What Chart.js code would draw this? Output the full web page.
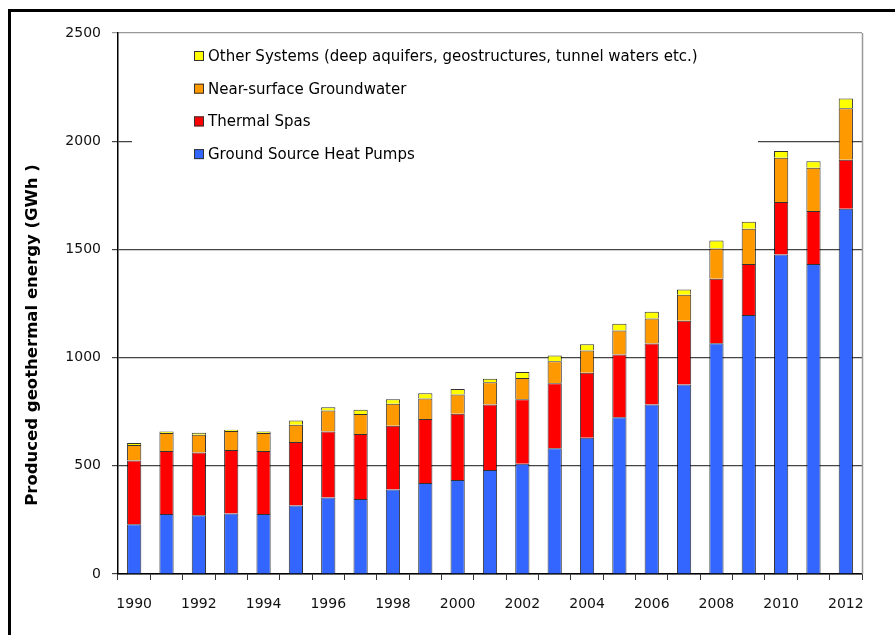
<!DOCTYPE html>
<html>
<head>
<meta charset="utf-8">
<title>Produced geothermal energy</title>
<script src="https://cdn.jsdelivr.net/npm/chart.js@4/dist/chart.umd.min.js"></script>
<style>
    html, body { margin: 0; padding: 0; background: #fff; }
    canvas { display: block; }
</style>
</head>
<body>
<canvas id="energyChart" width="895" height="635"></canvas>
<script>
    var years = ['1990', '1991', '1992', '1993', '1994', '1995', '1996', '1997', '1998', '1999', '2000', '2001',
        '2002', '2003', '2004', '2005', '2006', '2007', '2008', '2009', '2010', '2011', '2012'];

    // GWh per year
    var heatPumps = [230, 277, 272, 279, 277, 316, 353, 347, 390, 421, 434, 481, 509, 581, 630, 724, 783, 876, 1066, 1197, 1476, 1433, 1688];
    var thermalSpas = [295, 291, 290, 294, 291, 294, 305, 300, 295, 295, 306, 302, 299, 301, 300, 290, 282, 294, 298, 236, 243, 245, 226];
    var groundwater = [71, 83, 82, 88, 84, 80, 98, 92, 102, 95, 90, 103, 98, 101, 103, 111, 116, 120, 140, 163, 205, 199, 238];
    var otherSystems = [9, 7, 9, 6, 6, 19, 15, 20, 21, 24, 25, 16, 28, 27, 29, 31, 31, 25, 37, 32, 31, 30, 45];

    var yTicks = [0, 500, 1000, 1500, 2000, 2500];
    var legendLabels = [
        'Other Systems (deep aquifers, geostructures, tunnel waters etc.)',
        'Near-surface Groundwater',
        'Thermal Spas',
        'Ground Source Heat Pumps'
    ];
    var yTitle = 'Produced geothermal energy (GWh )';

    var colors = {
        heatPumps: '#3366ff',
        thermalSpas: '#ff0000',
        groundwater: '#ff9900',
        otherSystems: '#ffff00'
    };

    Chart.defaults.font.family = '"DejaVu Sans", Verdana, sans-serif';
    Chart.defaults.color = '#1a1a1a';

    // black frame, plot border and the y title
    var framePlugin = {
        id: 'frame',
        beforeDraw: function (chart) {
            var ctx = chart.ctx;
            ctx.save();
            ctx.fillStyle = '#000';
            ctx.fillRect(8, 9, 3, 626);
            ctx.fillRect(8, 9, 887, 3);
            ctx.restore();
        },
        afterDraw: function (chart) {
            var ctx = chart.ctx;
            var area = chart.chartArea;
            ctx.save();
            ctx.strokeStyle = '#999';
            ctx.lineWidth = 1.5;
            ctx.beginPath();
            ctx.moveTo(area.right + 0.5, area.top);
            ctx.lineTo(area.right + 0.5, area.bottom);
            ctx.stroke();

            ctx.translate(33, 335);
            ctx.rotate(-Math.PI / 2);
            ctx.fillStyle = '#000';
            ctx.font = 'bold 16.5px "DejaVu Sans"';
            ctx.textAlign = 'center';
            ctx.textBaseline = 'middle';
            ctx.fillText(yTitle, 0, 0);
            ctx.restore();
        }
    };

    // legend box sitting inside the plot, over the 2000 gridline
    var boxLegendPlugin = {
        id: 'boxLegend',
        beforeDatasetsDraw: function (chart) {
            var ctx = chart.ctx;
            var order = [3, 2, 1, 0];
            ctx.save();
            ctx.fillStyle = '#fff';
            ctx.fillRect(132, 36, 626, 134);
            ctx.font = '15px "DejaVu Sans"';
            ctx.textBaseline = 'middle';
            ctx.textAlign = 'left';
            order.forEach(function (dsIndex, i) {
                var ds = chart.data.datasets[dsIndex];
                var y = 56 + i * 32.7;
                ctx.fillStyle = ds.backgroundColor;
                ctx.fillRect(194, y - 5, 10, 10);
                ctx.strokeStyle = '#333';
                ctx.lineWidth = 1;
                ctx.strokeRect(194.5, y - 4.5, 9, 9);
                ctx.fillStyle = '#000';
                ctx.fillText(legendLabels[i], 208, y + 1);
            });
            ctx.restore();
        }
    };

    function makeDataset(label, data, color) {
        return {
            label: label,
            data: data,
            backgroundColor: color,
            borderColor: 'rgba(0, 0, 0, 0.8)',
            borderWidth: 1,
            categoryPercentage: 1,
            barPercentage: 0.44
        };
    }

    var ctx = document.getElementById('energyChart').getContext('2d');
    new Chart(ctx, {
        type: 'bar',
        data: {
            labels: years,
            datasets: [
                makeDataset(legendLabels[3], heatPumps, colors.heatPumps),
                makeDataset(legendLabels[2], thermalSpas, colors.thermalSpas),
                makeDataset(legendLabels[1], groundwater, colors.groundwater),
                makeDataset(legendLabels[0], otherSystems, colors.otherSystems)
            ]
        },
        options: {
            responsive: false,
            animation: false,
            layout: {
                padding: { top: 33, right: 33, left: 0, bottom: 0 }
            },
            plugins: {
                legend: { display: false },
                tooltip: { enabled: false }
            },
            scales: {
                x: {
                    stacked: true,
                    offset: true,
                    afterFit: function (scale) { scale.height = 61; },
                    grid: {
                        offset: true,
                        drawOnChartArea: false,
                        tickLength: 6,
                        color: '#333'
                    },
                    border: { color: '#000', width: 1.5 },
                    ticks: {
                        autoSkip: false,
                        maxRotation: 0,
                        padding: 16,
                        font: { size: 14 },
                        color: '#111',
                        callback: function (value, index) {
                            return index % 2 === 0 ? years[index] : '';
                        }
                    }
                },
                y: {
                    stacked: true,
                    min: yTicks[0],
                    max: yTicks[yTicks.length - 1],
                    afterFit: function (scale) { scale.width = 118; },
                    afterBuildTicks: function (scale) {
                        scale.ticks = yTicks.map(function (v) { return { value: v }; });
                    },
                    grid: {
                        tickLength: 6,
                        color: function (c) {
                            return c.tick && c.tick.value === 2500 ? '#999' : '#444';
                        },
                        lineWidth: 1.2
                    },
                    border: { color: '#000', width: 1.5 },
                    ticks: {
                        padding: 11,
                        font: { size: 14 },
                        color: '#111',
                        callback: function (value) { return String(value); }
                    }
                }
            }
        },
        plugins: [framePlugin, boxLegendPlugin]
    });
</script>
</body>
</html>
